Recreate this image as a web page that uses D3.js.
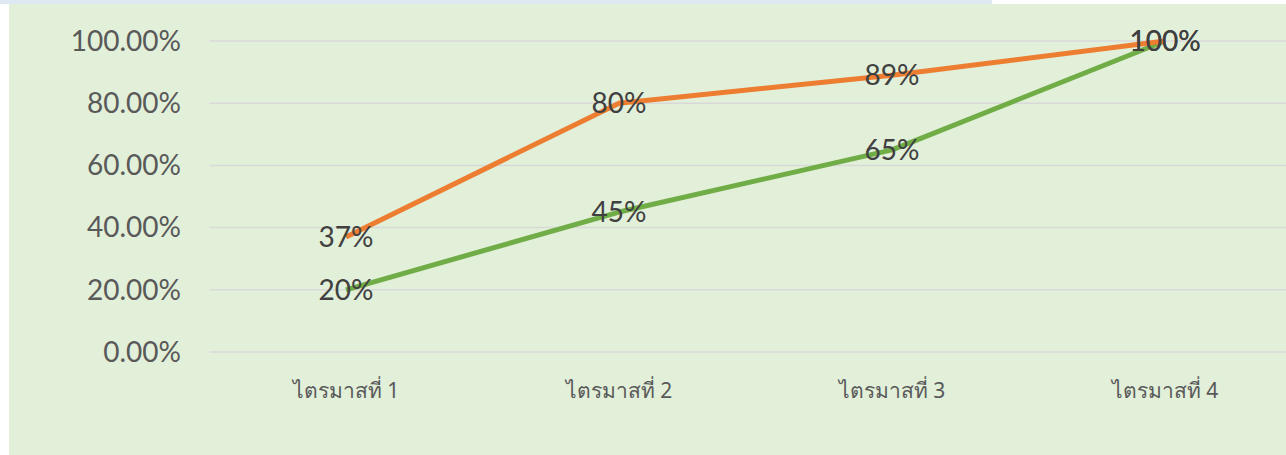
<!DOCTYPE html>
<head>
    <meta charset="utf-8">
    <script src="https://d3js.org/d3.v7.min.js"></script>
    <style>
        body { margin: 0; background: #fff; }
        svg { display: block; }
    </style>
</head>
<body>
    <script>
        // data
        const quarters = ["ไตรมาสที่ 1", "ไตรมาสที่ 2", "ไตรมาสที่ 3", "ไตรมาสที่ 4"]
        const orangeValues = [0.37, 0.80, 0.89, 1.00]
        const greenValues = [0.20, 0.45, 0.65, 1.00]
        const yTicks = [0, 0.2, 0.4, 0.6, 0.8, 1.0]

        let width = 1286,
            height = 455

        let svg = d3.select("body").append("svg")
            .attr("width", width)
            .attr("height", height)

        // top strip + chart area background
        svg.append("rect").attr("x", 0).attr("y", 0).attr("width", 992).attr("height", 4).attr("fill", "#dee8f2")
        svg.append("rect").attr("x", 9).attr("y", 4).attr("width", width - 9).attr("height", height - 4).attr("fill", "#e2efd9")

        const x_scale = d3.scaleBand()
            .domain(quarters)
            .range([209.5, 1301.5])

        const y_scale = d3.scaleLinear()
            .domain([0, 1])
            .range([352, 41])

        const xc = d => x_scale(d) + x_scale.bandwidth() / 2

        // gridlines
        svg.append("g").selectAll("line")
            .data(yTicks)
            .enter().append("line")
            .attr("x1", 209.5).attr("x2", width)
            .attr("y1", d => y_scale(d)).attr("y2", d => y_scale(d))
            .attr("stroke", "#d9d9d9")
            .attr("stroke-width", 1.5)

        // y axis labels
        svg.append("g").selectAll("text")
            .data(yTicks)
            .enter().append("text")
            .attr("x", 181)
            .attr("y", d => y_scale(d))
            .attr("dy", "0.35em")
            .attr("text-anchor", "end")
            .style("font-family", "Lato, 'Noto Sans', sans-serif")
            .style("font-size", "28px")
            .style("fill", "#595959")
            .text(d => d3.format(".2%")(d))

        // x axis labels
        svg.append("g").selectAll("text")
            .data(quarters)
            .enter().append("text")
            .attr("x", d => xc(d))
            .attr("y", 391)
            .attr("dy", "0.35em")
            .attr("text-anchor", "middle")
            .style("font-family", "'Noto Sans', Lato, sans-serif")
            .style("font-size", "21px")
            .style("fill", "#595959")
            .text(d => d)

        const line = d3.line()
            .x((d, i) => xc(quarters[i]))
            .y(d => y_scale(d))

        const series = [
            { values: greenValues, color: "#70ad47" },
            { values: orangeValues, color: "#ed7d31" }
        ]

        svg.append("g").selectAll("path")
            .data(series)
            .enter().append("path")
            .attr("d", d => line(d.values))
            .attr("fill", "none")
            .attr("stroke", d => d.color)
            .attr("stroke-width", 5)
            .attr("stroke-linejoin", "round")

        // data labels
        series.forEach(s => {
            svg.append("g").selectAll("text")
                .data(s.values)
                .enter().append("text")
                .attr("x", (d, i) => xc(quarters[i]))
                .attr("y", d => y_scale(d))
                .attr("dy", "0.35em")
                .attr("text-anchor", "middle")
                .style("font-family", "Lato, 'Noto Sans', sans-serif")
                .style("font-size", "28px")
                .style("fill", "#404040")
                .text(d => d3.format(".0%")(d))
        })
    </script>
</body>
